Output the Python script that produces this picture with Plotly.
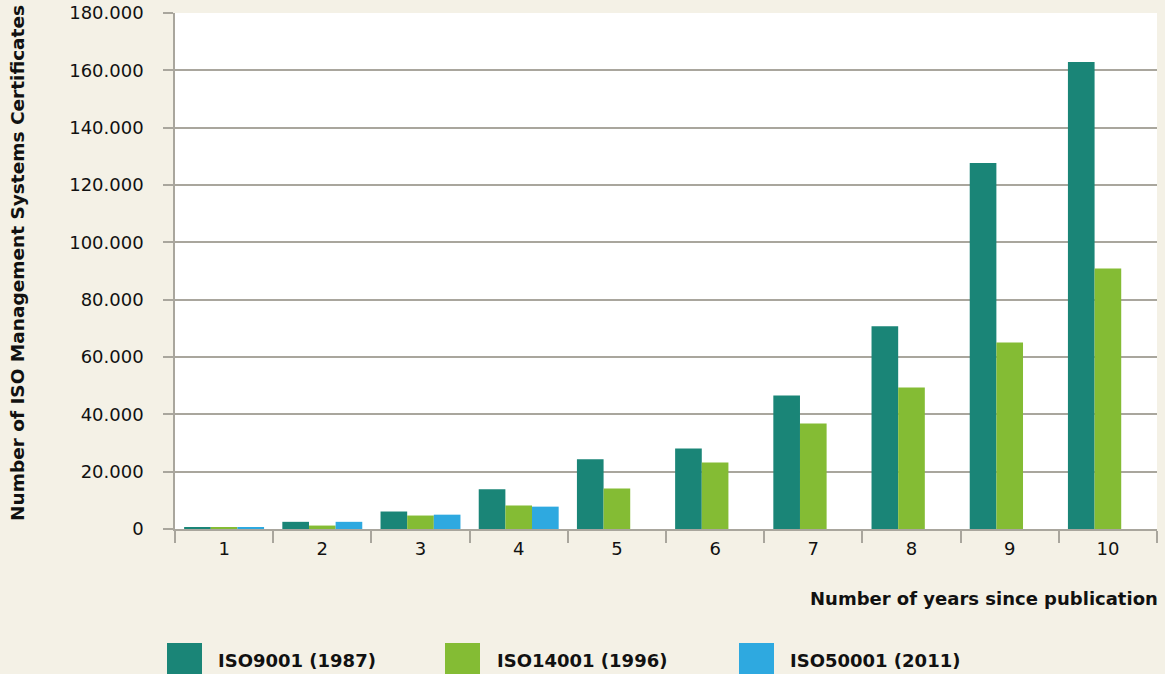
import plotly.graph_objects as go

years = [str(i) for i in range(1, 11)]
series_names = ["ISO9001 (1987)", "ISO14001 (1996)", "ISO50001 (2011)"]
iso9001 = [700, 2500, 6100, 13900, 24300, 28100, 46600, 70700, 127700, 162900]
iso14001 = [600, 1200, 4700, 8200, 14100, 23200, 36800, 49400, 65100, 90900]
iso50001 = [600, 2500, 5000, 7800, None, None, None, None, None, None]
colors = ["#1A8577", "#84BC34", "#2EA9E0"]
y_ticks = [0, 20000, 40000, 60000, 80000, 100000, 120000, 140000, 160000, 180000]

W, H = 1165, 674
PL, PR, PT, PB = 175, 1157, 13, 529  # plot area in page pixels
L, T = PL, PT
R, B = W - PR, H - PB
PW, PH = PR - PL, PB - PT


def px(x):
    return (x - PL) / PW


def py(y):
    return (PB - y) / PH


BG = "#F4F1E6"
GRID = "#A9A69D"
FONT = "DejaVu Sans"

fig = go.Figure()
for name, vals, c in zip(series_names, [iso9001, iso14001, iso50001], colors):
    fig.add_trace(go.Bar(x=years, y=vals, name=name, marker=dict(color=c, line=dict(width=0)),
                         showlegend=False))

fig.update_layout(
    width=W, height=H,
    margin=dict(l=L, r=R, t=T, b=B, autoexpand=False),
    paper_bgcolor=BG, plot_bgcolor="white",
    barmode="group", bargap=0.186, bargroupgap=0,
    separators=",.",
    font=dict(family=FONT, size=18, color="#111111"),
    xaxis=dict(
        type="category", tickson="boundaries", ticks="outside", ticklen=12,
        tickwidth=2, tickcolor=GRID, showline=True, linecolor=GRID, linewidth=2,
        showgrid=False, tickfont=dict(family=FONT, size=18), ticklabelstandoff=2,
        automargin=False,
    ),
    yaxis=dict(
        range=[0, 180000], tickvals=y_ticks, tickformat=",d", ticks="outside",
        ticklen=10, tickwidth=1.5, tickcolor=GRID, showline=True, linecolor=GRID,
        linewidth=1.5, showgrid=True, gridcolor=GRID, gridwidth=1.5,
        zeroline=False, tickfont=dict(family=FONT, size=18), ticklabelstandoff=16,
        ticklabeloverflow="allow", automargin=False,
    ),
)

# Axis titles
fig.add_annotation(text="<b>Number of ISO Management Systems Certificates</b>",
                   xref="paper", yref="paper", x=px(17), y=py(263), textangle=-90,
                   xanchor="center", yanchor="middle", showarrow=False,
                   font=dict(family=FONT, size=18.5, color="#111111"))
fig.add_annotation(text="<b>Number of years since publication</b>",
                   xref="paper", yref="paper", x=px(1160), y=py(598),
                   xanchor="right", yanchor="middle", showarrow=False,
                   font=dict(family=FONT, size=18, color="#111111"))

# Custom legend
sq_x = [167, 445, 739]
txt_x = [216, 495, 788]
for name, c, sx, tx in zip(series_names, colors, sq_x, txt_x):
    fig.add_shape(type="rect", xref="paper", yref="paper",
                  x0=px(sx), x1=px(sx + 35), y0=py(643), y1=py(676),
                  fillcolor=c, line=dict(width=0), layer="above")
    fig.add_annotation(text="<b>" + name + "</b>", xref="paper", yref="paper",
                       x=px(tx), y=py(660), xanchor="left", yanchor="middle",
                       showarrow=False, font=dict(family=FONT, size=18, color="#111111"))

fig.write_html(
    "out.html",
    config={"displayModeBar": False},
    post_script="document.body.style.margin='0';document.body.style.background='#F4F1E6';"
                "document.body.style.overflow='hidden';",
)
